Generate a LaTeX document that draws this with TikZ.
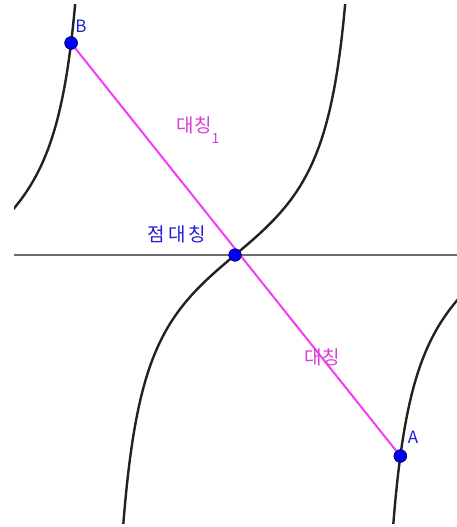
\documentclass[tikz,border=0pt]{standalone}
\usepackage{fontspec}
\newfontfamily\kr{Noto Sans CJK KR}
\definecolor{curvecol}{RGB}{34,34,34}
\definecolor{axiscol}{RGB}{110,110,110}
\definecolor{segcol}{RGB}{245,60,245}
\definecolor{labmag}{RGB}{215,60,215}
\definecolor{labblue}{RGB}{30,30,215}
\definecolor{dotfill}{RGB}{0,0,250}
\definecolor{dotline}{RGB}{0,0,110}
\begin{document}
\begin{tikzpicture}[x=1pt,y=-1pt,
  curve/.style={draw=curvecol,line width=2.4pt},
  axis/.style={draw=axiscol,line width=1.5pt},
  seg/.style={draw=segcol,line width=2pt},
  ptdot/.style={circle,fill=dotfill,draw=dotline,line width=0.7pt,minimum size=12.5pt,inner sep=0pt},
  ptlab/.style={font=\kr\fontsize{17}{17}\selectfont,text=labblue,inner sep=0pt},
  kmag/.style={font=\kr\fontsize{19}{19}\selectfont,text=labmag,inner sep=0pt},
  kblue/.style={font=\kr\fontsize{19}{19}\selectfont,text=labblue,inner sep=0pt}]
\useasboundingbox (0,0) rectangle (457,527);
\fill[white] (0,0) rectangle (457,527);
\begin{scope}
\clip (14,5) rectangle (457,523);
\foreach \s in {-1,0,1}
  \draw[curve] plot[domain=0:530,samples=160,variable=\t,smooth]
    ({235+270*\s+85.3*rad(atan((255-\t)/72))},{\t});
\end{scope}
\coordinate (hl) at (14,255);
\coordinate (hr) at (457,255);
\draw[axis] (hl) -- (hr);
\node[ptdot] (B) at (71.1,43) {};
\node[ptdot] (A) at (400.3,456) {};
\draw[seg] (A.center) -- (B.center);
\node[ptdot] (O) at (235,255) {};
\node[ptdot] at (B) {};
\node[ptdot] at (A) {};
\node[ptlab] (lB) at (81,26) {B};
\node[ptlab] (lA) at (413,437) {A};
\node[kblue] (lO) at (177,234) {점\,대\,칭};
\node[kmag] (l1) at (198,130) {대칭\raisebox{-1.0ex}{\fontsize{14}{14}\selectfont 1}};
\node[kmag] (l2) at (322,357) {대칭};
\end{tikzpicture}
\end{document}
